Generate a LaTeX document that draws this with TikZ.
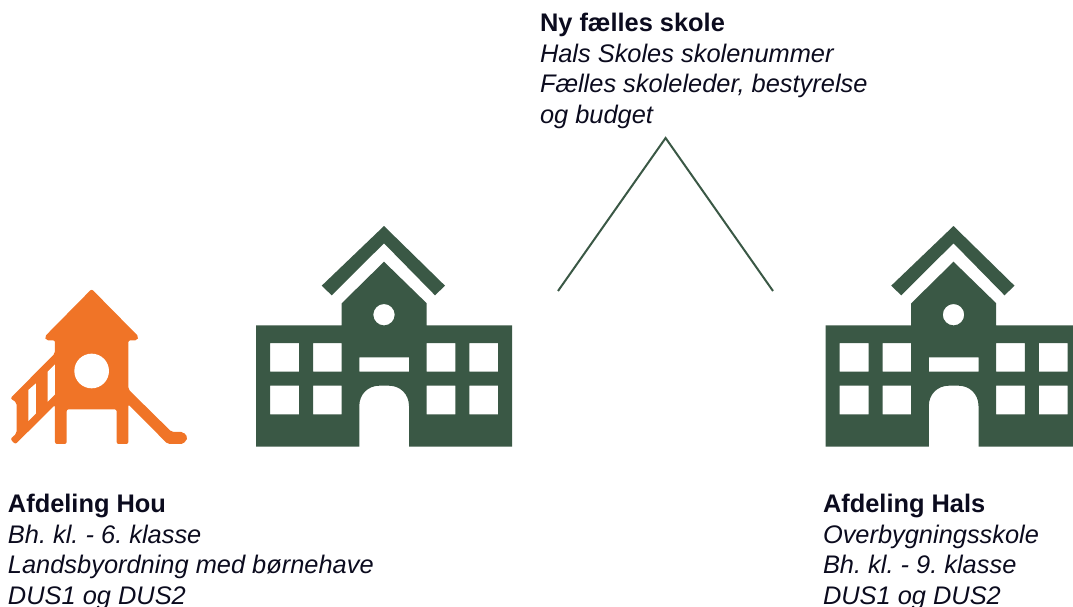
\documentclass[tikz,border=0pt]{standalone}
\usepackage{fontspec}
\setmainfont{Liberation Sans}
\frenchspacing
\definecolor{schoolgreen}{HTML}{3A5845}
\definecolor{playorange}{HTML}{F07427}
\definecolor{textink}{HTML}{0B0B1E}
\tikzset{
  label text/.style={inner sep=0pt,outer sep=0pt,anchor=north west,align=left,text=textink,
    font=\fontsize{25.4}{30.6}\selectfont},
  link/.style={draw=schoolgreen,line width=2pt,line join=miter},
  green fill/.style={fill=schoolgreen,even odd rule},
  orange fill/.style={fill=playorange,even odd rule}
}
\newcommand{\schoolicon}[1]{%
  \begin{scope}[shift={(#1,0)}]
    \fill[green fill] (321.7,285.7) -- (384,226) -- (445,285.7) -- (435,295.3) -- (384,243.3) -- (331.7,295.3) -- cycle;
    \fill[green fill]
      (256,325.3) -- (341.7,325.3) -- (341.7,303.3) -- (384,261.7) -- (426.7,303.3) -- (426.7,325.3) -- (512,325.3) -- (512,446.7)
      -- (409,446.7) -- (409,406) .. controls (409,394) and (400,385.7) .. (389,385.7) -- (379.3,385.7) .. controls (368.3,385.7) and (359.3,394) .. (359.3,406) -- (359.3,446.7) -- (256,446.7) -- cycle
      (384,314.7) circle[radius=10.7]
      (270,343) rectangle (299,371.7) (313,343) rectangle (341.7,371.7)
      (426.7,343) rectangle (455.3,371.7) (469.3,343) rectangle (498,371.7)
      (270,385.7) rectangle (299,414.3) (313,385.7) rectangle (341.7,414.3)
      (426.7,385.7) rectangle (455.3,414.3) (469.3,385.7) rectangle (498,414.3)
      (359.3,357.3) rectangle (409,371.7);
  \end{scope}}
\begin{document}
\begin{tikzpicture}[x=1pt,y=-1pt]
  \useasboundingbox (0,0) rectangle (1073,607);
  \clip (0,0) rectangle (1073,607);
  % playground
  \begin{scope}[shift={(0,220)},x=0.3333pt,y=-0.3333pt]
    \fill[orange fill,rounded corners=2pt]
      (275,207) -- (416,350) -- (412,361) -- (385,361) -- (385,508) -- (515,636) -- (550,636)
      -- (564,653) -- (550,672) -- (503,672) -- (385,553) -- (385,672) -- (350,672) -- (350,568)
      -- (200,568) -- (200,672) -- (165,672) -- (165,555) -- (46,673) -- (31,657) -- (50,640)
      -- (50,548) -- (31,535) -- (165,400) -- (165,361) -- (138,361) -- (134,350) -- cycle;
    \fill[white] (275,453) circle[radius=52];
    \fill[white] (85,510) -- (108,490) -- (108,580) -- (85,603) -- cycle;
    \fill[white] (143,455) -- (165,433) -- (165,523) -- (143,545) -- cycle;
  \end{scope}
  \schoolicon{0}
  \schoolicon{569.5}
  % connector
  \coordinate (apex) at (665.6,138);
  \coordinate (leftfoot) at (558,291);
  \coordinate (rightfoot) at (773,291);
  \draw[link] (leftfoot) -- (apex) -- (rightfoot);
  % labels
  \node[label text] (top) at (540,13) {\textbf{Ny fælles skole}\\\textit{Hals Skoles skolenummer}\\\textit{Fælles skoleleder, bestyrelse}\\\textit{og budget}};
  \node[label text] (hou) at (8,494) {\textbf{Afdeling Hou}\\\textit{Bh. kl. - 6. klasse}\\\textit{Landsbyordning med børnehave}\\\textit{DUS1 og DUS2}};
  \node[label text] (hals) at (823,494) {\textbf{Afdeling Hals}\\\textit{Overbygningsskole}\\\textit{Bh. kl. - 9. klasse}\\\textit{DUS1 og DUS2}};
\end{tikzpicture}
\end{document}
